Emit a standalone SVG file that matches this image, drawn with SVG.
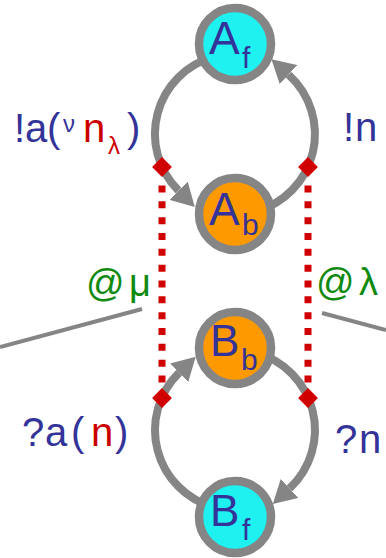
<svg xmlns="http://www.w3.org/2000/svg" width="386" height="558" viewBox="0 0 386 558">
<style>
.arc{fill:none;stroke:#858585;stroke-width:8;}
.ln{fill:none;stroke:#858585;stroke-width:4;}
.dots{fill:none;stroke:#d00000;stroke-width:7;stroke-dasharray:7 8.833;}
.dia{fill:#d00000;}
.node{stroke:#858585;stroke-width:8.5;}
.free{fill:#1ff0f0;}
.bound{fill:#ff9900;}
.nt{font-family:"Liberation Sans","DejaVu Sans",sans-serif;fill:#333399;}
.lab{font-family:"Liberation Sans","DejaVu Sans",sans-serif;font-size:40px;fill:#333399;}
.red{fill:#cc0000;}
.grn{font-family:"Liberation Sans","DejaVu Sans",sans-serif;font-size:38px;fill:#108a10;}
</style>
<defs>
<marker id="ah" markerUnits="userSpaceOnUse" markerWidth="26" markerHeight="26" refX="0" refY="13" orient="auto">
<path d="M0,0 L23,13 L0,26 Z" fill="#858585"/>
</marker>
</defs>
<g id="connectors">
<path class="ln" d="M0,347 L142,309"/>
<path class="ln" d="M322,313 L386,330"/>
<path class="arc" marker-end="url(#ah)" d="M214.3,56.7 A80,80 0 0 0 178.5,190.7"/>
<path class="arc" marker-end="url(#ah)" d="M255.7,211.3 A80,80 0 0 0 288.5,74.6"/>
<path class="arc" marker-end="url(#ah)" d="M214.3,507.3 A80,80 0 0 1 179.2,372.7"/>
<path class="arc" marker-end="url(#ah)" d="M255.7,352.7 A80,80 0 0 1 289.6,488.4"/>
<path class="dots" d="M162,185.5 L162,382.5"/>
<path class="dots" d="M308,185.5 L308,382.5"/>
<rect class="dia" x="-7" y="-7" width="14" height="14" transform="translate(162,167) rotate(45)"/>
<rect class="dia" x="-7" y="-7" width="14" height="14" transform="translate(308,167) rotate(45)"/>
<rect class="dia" x="-7" y="-7" width="14" height="14" transform="translate(162,398) rotate(45)"/>
<rect class="dia" x="-7" y="-7" width="14" height="14" transform="translate(308,398) rotate(45)"/>
</g>
<g id="Af">
<circle class="node free" cx="235" cy="44" r="36"/>
<text class="nt" x="209" y="54" font-size="46">A</text>
<text class="nt" x="242" y="68" font-size="30">f</text>
</g>
<g id="Ab">
<circle class="node bound" cx="235" cy="214" r="36"/>
<text class="nt" x="209" y="225" font-size="46">A</text>
<text class="nt" x="242" y="235" font-size="30">b</text>
</g>
<g id="Bb">
<circle class="node bound" cx="235" cy="348" r="36"/>
<text class="nt" x="210" y="356" font-size="44">B</text>
<text class="nt" x="241" y="370" font-size="30">b</text>
</g>
<g id="Bf">
<circle class="node free" cx="235" cy="517" r="36"/>
<text class="nt" x="210" y="526" font-size="44">B</text>
<text class="nt" x="242" y="540" font-size="30">f</text>
</g>
<g id="labels">
<text class="lab" y="142"><tspan x="14">!</tspan><tspan x="25">a</tspan><tspan x="47">(</tspan><tspan x="63" y="132" font-size="24">ν</tspan><tspan x="83" y="142" class="red">n</tspan><tspan x="108" y="154" font-size="24" class="red">λ</tspan><tspan x="127" y="142">)</tspan></text>
<text class="lab" y="141"><tspan x="343">!</tspan><tspan x="355">n</tspan></text>
<text class="grn" y="296"><tspan x="86">@</tspan><tspan x="129">μ</tspan></text>
<text class="grn" y="295"><tspan x="316">@</tspan><tspan x="359">λ</tspan></text>
<text class="lab" y="446"><tspan x="22">?</tspan><tspan x="45">a</tspan><tspan x="71">(</tspan><tspan x="91" class="red">n</tspan><tspan x="115">)</tspan></text>
<text class="lab" y="453"><tspan x="335">?</tspan><tspan x="359">n</tspan></text>
</g>
</svg>
